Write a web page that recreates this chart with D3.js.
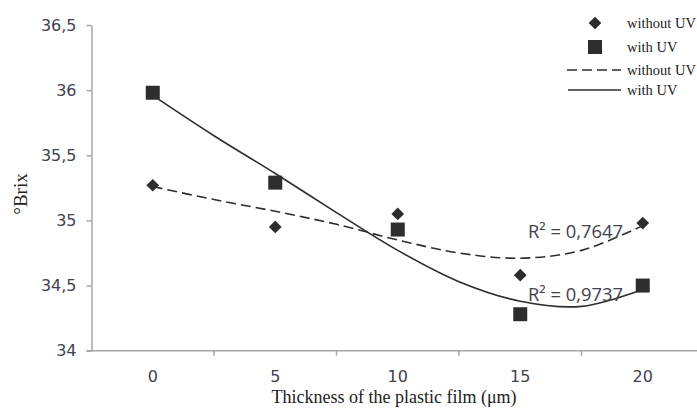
<!DOCTYPE html>
<html lang="en">
<head>
    <meta charset="UTF-8">
    <title>Brix vs film thickness</title>
    <script src="https://d3js.org/d3.v7.min.js" charset="utf-8"></script>
    <style>
        html, body { margin:0; background:#fff; }
        svg { position:absolute; top:0px; left:0px; }
    </style>
</head>
<body>
<svg width="697" height="408"></svg>
<script>
    // thickness categories (µm)
    var thickness = [0, 5, 10, 15, 20];
    var withoutUV = [35.27, 34.95, 35.05, 34.58, 34.98];
    var withUV = [35.98, 35.29, 34.93, 34.28, 34.50];

    // trendlines
    var trendT = [0, 2.5, 5, 7.5, 10, 12.5, 15, 17.5, 20];
    var trendWithoutUV = [35.26, 35.16, 35.07, 34.97, 34.85, 34.75, 34.71, 34.77, 34.96];
    var trendWithUV = [35.96, 35.65, 35.36, 35.06, 34.77, 34.53, 34.38, 34.34, 34.47];

    var yTicks = [34, 34.5, 35, 35.5, 36, 36.5];
    var r2Labels = ["R² = 0,7647", "R² = 0,9737"];

    var svg = d3.select('svg');
    var ink = "#2d2d2d";
    var axisCol = "#a6a6a6";
    var tickFont = "'DejaVu Sans', sans-serif";

    var x = d3.scaleBand().domain(thickness).range([91.5, 704]).padding(0);
    var bw = x.bandwidth();
    var xc = function(d) { return x(d) + bw / 2; };
    var xt = d3.scaleLinear().domain([0, 20]).range([xc(0), xc(20)]);
    var y = d3.scaleLinear().domain([34, 36.5]).range([350.7, 25]);

    // y axis
    var yAxis = d3.axisLeft(y)
        .tickValues(yTicks)
        .tickSize(5)
        .tickSizeOuter(0)
        .tickPadding(10)
        .tickFormat(function(d) { return String(d).replace('.', ','); });
    var gy = svg.append("g").attr("transform", "translate(91.5,0)").call(yAxis);
    gy.select(".domain").attr("stroke", axisCol).attr("stroke-width", 1.5);
    gy.selectAll(".tick line").attr("stroke", axisCol).attr("stroke-width", 1.5);
    gy.selectAll(".tick text").attr("fill", "#3f4150")
        .style("font-family", tickFont).style("font-size", "16px");

    // x axis: line, ticks between categories, labels centred
    var gx = svg.append("g");
    gx.append("line")
        .attr("x1", 86.5).attr("x2", 697)
        .attr("y1", y(34)).attr("y2", y(34))
        .attr("stroke", axisCol).attr("stroke-width", 1.5);
    gx.selectAll(".xtick")
        .data(thickness.slice(1))
        .enter().append("line")
        .attr("x1", function(d) { return x(d); })
        .attr("x2", function(d) { return x(d); })
        .attr("y1", y(34)).attr("y2", y(34) + 5)
        .attr("stroke", axisCol).attr("stroke-width", 1.5);
    gx.selectAll(".xlab")
        .data(thickness)
        .enter().append("text")
        .attr("x", xc)
        .attr("y", 382)
        .attr("text-anchor", "middle")
        .attr("fill", "#3f4150")
        .style("font-family", tickFont).style("font-size", "16px")
        .text(function(d) { return d; });

    // axis titles
    svg.append("text")
        .attr("x", 394).attr("y", 403)
        .attr("text-anchor", "middle")
        .attr("fill", "#222")
        .style("font-family", "'Liberation Serif', serif").style("font-size", "18px")
        .text("Thickness of the plastic film (μm)");
    svg.append("text")
        .attr("transform", "translate(27,194) rotate(-90)")
        .attr("text-anchor", "middle")
        .attr("fill", "#222")
        .style("font-family", "'Liberation Serif', serif").style("font-size", "19px")
        .text("°Brix");

    // trendlines
    var line = d3.line()
        .x(function(d, i) { return xt(trendT[i]); })
        .y(function(d) { return y(d); })
        .curve(d3.curveCatmullRom);
    svg.append("path").datum(trendWithoutUV)
        .attr("d", line).attr("fill", "none")
        .attr("stroke", ink).attr("stroke-width", 1.6)
        .attr("stroke-dasharray", "10,5");
    svg.append("path").datum(trendWithUV)
        .attr("d", line).attr("fill", "none")
        .attr("stroke", ink).attr("stroke-width", 1.6);

    // markers
    var diamond = d3.symbol().type(d3.symbolSquare).size(81);
    var square = d3.symbol().type(d3.symbolSquare).size(196);
    svg.selectAll(".dia")
        .data(withoutUV)
        .enter().append("path")
        .attr("d", diamond)
        .attr("fill", ink)
        .attr("transform", function(d, i) {
            return "translate(" + xc(thickness[i]) + "," + y(d) + ") rotate(45)";
        });
    svg.selectAll(".sq")
        .data(withUV)
        .enter().append("path")
        .attr("d", square)
        .attr("fill", ink)
        .attr("transform", function(d, i) {
            return "translate(" + xc(thickness[i]) + "," + y(d) + ")";
        });

    // R² labels
    svg.selectAll(".r2")
        .data(r2Labels)
        .enter().append("text")
        .attr("x", 528)
        .attr("y", function(d, i) { return i === 0 ? 238 : 301; })
        .attr("fill", "#3f4150")
        .attr("textLength", 95)
        .attr("lengthAdjust", "spacingAndGlyphs")
        .style("font-family", "'Open Sans', sans-serif").style("font-size", "18px")
        .text(function(d) { return d; });

    // legend
    var legend = svg.append("g")
        .style("font-family", "'Liberation Serif', serif").style("font-size", "14.5px");
    var legendItems = ["without UV", "with UV", "without UV", "with UV"];
    var legendY = [23, 47, 70, 90];
    legend.selectAll("text")
        .data(legendItems)
        .enter().append("text")
        .attr("x", 627)
        .attr("y", function(d, i) { return legendY[i] + 5; })
        .attr("fill", "#222")
        .text(function(d) { return d; });
    legend.append("path").attr("d", diamond).attr("fill", ink)
        .attr("transform", "translate(595," + legendY[0] + ") rotate(45)");
    legend.append("path").attr("d", square).attr("fill", ink)
        .attr("transform", "translate(595," + legendY[1] + ")");
    legend.append("line")
        .attr("x1", 567).attr("x2", 621)
        .attr("y1", legendY[2]).attr("y2", legendY[2])
        .attr("stroke", ink).attr("stroke-width", 1.6)
        .attr("stroke-dasharray", "10,5");
    legend.append("line")
        .attr("x1", 568).attr("x2", 621)
        .attr("y1", legendY[3]).attr("y2", legendY[3])
        .attr("stroke", ink).attr("stroke-width", 1.6);
</script>
</body>
</html>
